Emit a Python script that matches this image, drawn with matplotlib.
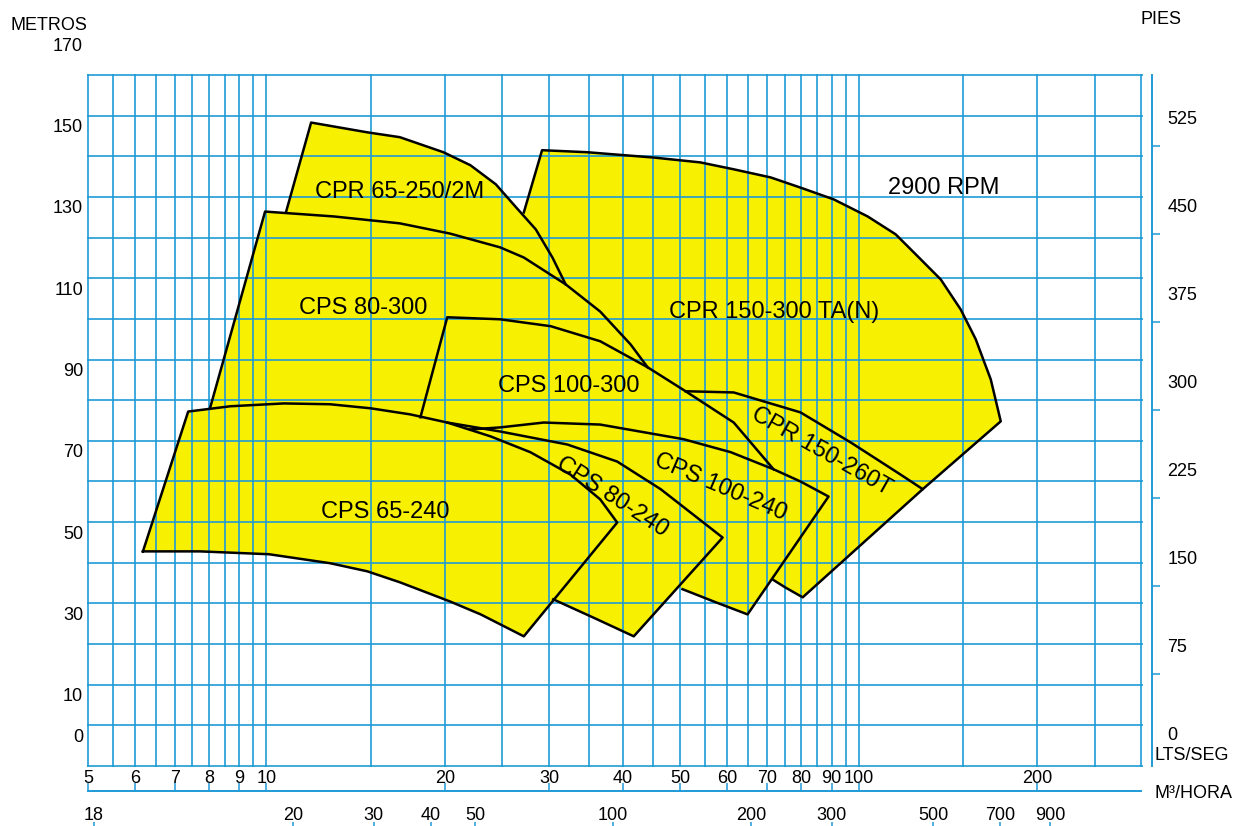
import matplotlib.pyplot as plt
from matplotlib.ticker import NullLocator

plt.rcParams['font.family'] = ['Liberation Sans', 'DejaVu Sans']

BLUE = '#1e9ad6'
YELLOW = '#f7f000'

# pump fields: flow (l/s) / head (m) along the drawn outline,
# then the closing part that sits under the other fields (fill only)
cps65_240_q = [6.19, 7.38, 8.69, 10.7, 12.8, 15.0, 17.5, 20.2, 23.9, 27.9, 32.6, 36.6, 39.1,
               27.2, 23.0, 20.4, 16.8, 14.8, 12.8, 10.1, 7.73, 6.19]
cps65_240_h = [42.8, 77.2, 78.5, 79.2, 79.0, 78.0, 76.5, 74.5, 71.1, 67.2, 61.7, 55.6, 49.9,
               21.9, 27.3, 30.5, 35.2, 37.9, 39.9, 42.1, 42.8, 42.8]
cps65_240_hid_q = []
cps65_240_hid_h = []

cps80_240_q = [20.2, 24.8, 32.2, 39.1, 46.3, 58.9, 41.7, 35.9, 30.5]
cps80_240_h = [74.5, 72.3, 69.1, 64.9, 58.1, 46.2, 21.9, 26.3, 31.0]
cps80_240_hid_q = []
cps80_240_hid_h = []

cps100_240_q = [22.1, 24.8, 29.4, 36.6, 50.6, 60.8, 71.8, 79.7, 88.9, 64.9, 57.3, 50.4]
cps100_240_h = [72.8, 73.3, 74.5, 74.0, 70.4, 67.2, 63.0, 60.0, 56.3, 27.3, 30.3, 33.5]
cps100_240_hid_q = []
cps100_240_hid_h = []

cpr150_260_q = [51.0, 61.5, 79.7, 96.9, 117.6, 128.2, 80.4, 75.2, 71.5]
cpr150_260_h = [82.2, 81.9, 77.0, 69.6, 61.7, 58.1, 31.5, 33.9, 35.9]
cpr150_260_hid_q = []
cpr150_260_hid_h = []

cps100_300_q = [18.2, 20.2, 24.8, 30.2, 36.6, 44.0, 51.0, 61.5, 71.8]
cps100_300_h = [75.8, 100.4, 99.9, 98.2, 94.5, 88.1, 82.2, 74.5, 63.0]
cps100_300_hid_q = [54.0, 36.6, 24.8, 18.6]
cps100_300_hid_h = [60.5, 63.0, 67.9, 74.0]

cps80_300_q = [8.04, 9.95, 13.0, 16.8, 20.4, 24.8, 27.2, 32.0, 36.6, 41.2, 44.0]
cps80_300_h = [78.2, 126.4, 125.2, 123.5, 121.0, 117.6, 115.1, 108.5, 101.8, 93.7, 88.1]
cps80_300_hid_q = [36.6, 20.4, 11.4, 8.04]
cps80_300_hid_h = [75.3, 70.4, 75.3, 76.5]

cpr65_250_q = [10.8, 11.9, 14.8, 16.8, 19.9, 22.1, 24.4, 26.3, 28.5, 30.4, 32.0]
cpr65_250_h = [126.4, 148.3, 145.9, 144.7, 141.0, 137.8, 133.1, 127.7, 122.0, 115.1, 108.5]
cpr65_250_hid_q = [20.4, 11.0]
cpr65_250_hid_h = [119.6, 125.0]

cpr150_300_q = [27.2, 29.2, 34.8, 45.0, 54.0, 61.5, 71.0, 79.7, 90.7, 103.5, 115.4, 125.7,
                137.5, 148.6, 157.5, 167.0, 173.6, 128.2]
cpr150_300_h = [126.2, 141.5, 141.0, 139.7, 138.5, 136.8, 134.8, 132.3, 129.4, 125.2, 120.8,
                115.4, 109.7, 102.3, 95.0, 85.1, 74.8, 58.1]
cpr150_300_hid_q = [73.8, 52.0, 39.6, 31.4, 25.8]
cpr150_300_hid_h = [60.5, 75.3, 90.0, 107.3, 125.7]

# labels inside the chart
label_text = ['CPR 65-250/2M', 'CPS 80-300', 'CPS 100-300', 'CPR 150-300 TA(N)', '2900 RPM',
              'CPS 65-240', 'CPS 80-240', 'CPS 100-240', 'CPR 150-260T']
label_q = [16.8, 14.55, 32.4, 71.9, 139.3, 15.9, 38.3, 58.4, 86.3]
label_h = [131.1, 102.8, 83.4, 101.8, 132.3, 52.4, 56.3, 58.5, 67.4]
label_rot = [0, 0, 0, 0, 0, 0, -33, -23, -29.5]

# axes
grid_q = [5, 5.5, 6, 6.5, 7, 7.5, 8, 8.5, 9, 9.5, 10, 15, 20, 25, 30, 35, 40, 45, 50, 55, 60,
          65, 70, 75, 80, 85, 90, 95, 100, 150, 200, 250, 300]
grid_h = [-10, 0, 10, 20, 30, 40, 50, 60, 70, 80, 90, 100, 110, 120, 130, 140, 150, 160]
metros_ticks = [0, 10, 30, 50, 70, 90, 110, 130, 150, 170]
pies_ticks = [0, 75, 150, 225, 300, 375, 450, 525]
pies_marks = [50, 125, 200, 275, 350, 425, 500]
lts_ticks = [5, 6, 7, 8, 9, 10, 20, 30, 40, 50, 60, 70, 80, 90, 100, 200]
m3_ticks = [7.35, 20, 30, 40, 50, 100, 200, 300, 500, 700, 900]
m3_labels = ['18', '20', '30', '40', '50', '100', '200', '300', '500', '700', '900']

W, H = 1239, 826
def fx(px):
    return px / W
def fy(py):
    return 1 - py / H

fig = plt.figure(figsize=(W / 100, H / 100), dpi=100)
ax = fig.add_axes([fx(88), fy(766), (1141.5 - 88) / W, (766 - 75) / H])
ax.set_xscale('log')
ax.set_xlim(5, 300)
ax.set_ylim(-10, 160)
ax.xaxis.set_major_locator(NullLocator())
ax.xaxis.set_minor_locator(NullLocator())
ax.set_yticks([])
for s in ax.spines.values():
    s.set_visible(False)

pumps = [
    (cpr150_300_q, cpr150_300_h, cpr150_300_hid_q, cpr150_300_hid_h),
    (cpr65_250_q, cpr65_250_h, cpr65_250_hid_q, cpr65_250_hid_h),
    (cps80_300_q, cps80_300_h, cps80_300_hid_q, cps80_300_hid_h),
    (cps100_300_q, cps100_300_h, cps100_300_hid_q, cps100_300_hid_h),
    (cpr150_260_q, cpr150_260_h, cpr150_260_hid_q, cpr150_260_hid_h),
    (cps100_240_q, cps100_240_h, cps100_240_hid_q, cps100_240_hid_h),
    (cps80_240_q, cps80_240_h, cps80_240_hid_q, cps80_240_hid_h),
    (cps65_240_q, cps65_240_h, cps65_240_hid_q, cps65_240_hid_h),
]
for q, h, hq, hh in pumps:
    ax.fill(q + hq, h + hh, color=YELLOW, lw=0, zorder=1)
for q, h, hq, hh in pumps:
    ax.plot(q, h, color='black', lw=1.8, solid_joinstyle='round', zorder=3)

for q in grid_q:
    ax.axvline(q, color=BLUE, lw=1.4, alpha=0.85, zorder=2, clip_on=False)
for h in grid_h:
    ax.axhline(h, color=BLUE, lw=1.4, alpha=0.85, zorder=2, clip_on=False)

for t, q, h, r in zip(label_text, label_q, label_h, label_rot):
    ax.text(q, h, t, ha='center', va='center', rotation=r, rotation_mode='anchor',
            fontsize=17, zorder=4)

# metros labels sit a little below their grid line
for v in metros_ticks:
    ax.annotate(str(v), xy=(0, v), xycoords=('axes fraction', 'data'),
                xytext=(-5, -12), textcoords='offset pixels',
                ha='right', va='center', fontsize=13, annotation_clip=False)

# pies
ax2 = ax.twinx()
ax2.set_ylim(-28.1, 560.8)
ax2.set_yticks(pies_marks, labels=[])
ax2.set_yticks(pies_ticks, labels=[str(v) for v in pies_ticks], minor=True)
ax2.tick_params(which='major', direction='out', length=5.8, width=1.1, color=BLUE)
ax2.tick_params(which='minor', length=0, pad=10.8, labelsize=13)
for s in ['top', 'bottom', 'left']:
    ax2.spines[s].set_visible(False)
ax2.spines['right'].set_position(('outward', 7.9))
ax2.spines['right'].set_color(BLUE)
ax2.spines['right'].set_linewidth(1.4)

# lts/seg scale
ax_l = fig.add_axes([fx(88), fy(791), (1141.5 - 88) / W, 1e-4])
ax_l.set_xscale('log')
ax_l.set_xlim(5, 300)
ax_l.set_xticks(lts_ticks, labels=[str(v) for v in lts_ticks])
ax_l.xaxis.set_minor_locator(NullLocator())
ax_l.xaxis.set_ticks_position('top')
ax_l.tick_params(axis='x', direction='out', length=5.8, width=1.1, color=BLUE,
                 pad=-2.7, labelsize=13, labeltop=True, labelbottom=False)
ax_l.set_yticks([])
ax_l.patch.set_visible(False)
for s in ['bottom', 'left', 'right']:
    ax_l.spines[s].set_visible(False)
ax_l.spines['top'].set_color(BLUE)
ax_l.spines['top'].set_linewidth(1.4)

# m3/hora scale
ax_m = fig.add_axes([fx(88), fy(822), (1141.5 - 88) / W, 1e-4])
ax_m.set_xscale('log')
ax_m.set_xlim(7.13, 1425)
ax_m.set_xticks(m3_ticks, labels=m3_labels)
ax_m.xaxis.set_minor_locator(NullLocator())
ax_m.xaxis.set_ticks_position('top')
ax_m.tick_params(axis='x', direction='in', length=8, width=1.1, color=BLUE,
                 pad=-1.3, labelsize=13, labeltop=True, labelbottom=False)
ax_m.set_yticks([])
ax_m.patch.set_visible(False)
for s in ax_m.spines.values():
    s.set_visible(False)

fig.text(fx(87), fy(25), 'METROS', ha='right', va='center', fontsize=13)
fig.text(fx(1161), fy(20), 'PIES', ha='center', va='center', fontsize=13)
fig.text(fx(1155), fy(755), 'LTS/SEG', ha='left', va='center', fontsize=13)
fig.text(fx(1155), fy(793), 'M³/HORA', ha='left', va='center', fontsize=13)

fig.savefig('out.png', dpi=100)
